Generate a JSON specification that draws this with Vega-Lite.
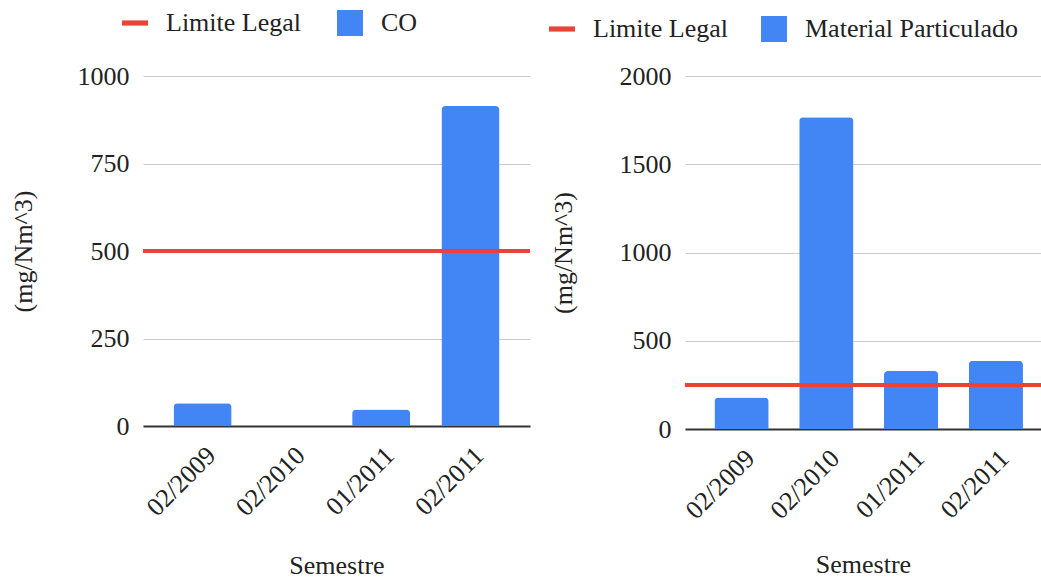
{
  "$schema": "https://vega.github.io/schema/vega-lite/v6.json",
  "padding": {"left": 10, "top": 10, "right": 0, "bottom": 0},
  "autosize": {"type": "pad"},
  "background": "white",
  "spacing": 17,
  "resolve": {"scale": {"color": "independent"}, "legend": {"color": "independent"}},
  "datasets": {
    "co": [
      {"semestre": "02/2009", "valor": 65, "serie": "CO"},
      {"semestre": "02/2010", "valor": 0, "serie": "CO"},
      {"semestre": "01/2011", "valor": 47, "serie": "CO"},
      {"semestre": "02/2011", "valor": 914, "serie": "CO"}
    ],
    "co_limite": [{"serie": "Limite Legal", "limite": 500}],
    "mp": [
      {"semestre": "02/2009", "valor": 178, "serie": "Material Particulado"},
      {"semestre": "02/2010", "valor": 1766, "serie": "Material Particulado"},
      {"semestre": "01/2011", "valor": 329, "serie": "Material Particulado"},
      {"semestre": "02/2011", "valor": 387, "serie": "Material Particulado"}
    ],
    "mp_limite": [{"serie": "Limite Legal", "limite": 250}]
  },
  "config": {
    "font": "Liberation Serif, Times New Roman, serif",
    "view": {"stroke": null},
    "axis": {
      "labelFont": "Liberation Serif, Times New Roman, serif",
      "titleFont": "Liberation Serif, Times New Roman, serif",
      "labelFontSize": 26,
      "titleFontSize": 26,
      "titleFontWeight": "normal",
      "labelColor": "#222222",
      "titleColor": "#222222"
    },
    "legend": {
      "labelFont": "Liberation Serif, Times New Roman, serif",
      "labelFontSize": 26,
      "labelColor": "#222222",
      "orient": "none",
      "direction": "horizontal",
      "symbolSize": 676,
      "labelOffset": 18,
      "columnPadding": 35,
      "padding": 0,
      "labelLimit": 400,
      "title": null
    }
  },
  "hconcat": [
    {
      "width": 387,
      "height": 350,
      "layer": [
        {
          "data": {"name": "co"},
          "mark": {"type": "bar", "cornerRadiusTopLeft": 4, "cornerRadiusTopRight": 4},
          "encoding": {
            "x": {
              "field": "semestre",
              "type": "nominal",
              "sort": null,
              "scale": {"paddingInner": 0.35, "paddingOuter": 0.342, "align": 0.5},
              "axis": {
                "title": "Semestre",
                "labelAngle": -45,
                "labelAlign": "right",
                "labelBaseline": "middle",
                "labelPadding": 25,
                "labelOffset": 9,
                "ticks": false,
                "domain": true,
                "domainColor": "#333333",
                "domainWidth": 2,
                "titlePadding": 32
              }
            },
            "y": {
              "field": "valor",
              "type": "quantitative",
              "scale": {"domain": [0, 1000], "nice": false},
              "axis": {
                "title": "(mg/Nm^3)",
                "values": [0, 250, 500, 750, 1000],
                "format": "d",
                "domain": false,
                "ticks": false,
                "grid": true,
                "gridColor": "#cccccc",
                "labelPadding": 14,
                "titlePadding": 41
              }
            },
            "color": {
              "field": "serie",
              "type": "nominal",
              "scale": {"domain": ["Limite Legal", "CO"], "range": ["#EA4335", "#4285F4"]},
              "legend": {
                "legendX": -21,
                "legendY": -66,
                "encode": {
                  "symbols": {
                    "update": {
                      "shape": {"signal": "datum.value === 'Limite Legal' ? 'M-1,-0.2L1,-0.2L1,0.2L-1,0.2Z' : 'square'"},
                      "fill": {"signal": "datum.value === 'Limite Legal' ? '#EA4335' : '#4285F4'"},
                      "strokeWidth": {"value": 0},
                      "opacity": {"value": 1}
                    }
                  }
                }
              }
            }
          }
        },
        {
          "data": {"name": "co_limite"},
          "mark": {"type": "rule", "strokeWidth": 4},
          "encoding": {
            "y": {"field": "limite", "type": "quantitative"},
            "color": {"field": "serie", "type": "nominal"}
          }
        }
      ]
    },
    {
      "width": 356,
      "height": 353,
      "layer": [
        {
          "data": {"name": "mp"},
          "mark": {"type": "bar", "cornerRadiusTopLeft": 4, "cornerRadiusTopRight": 4},
          "encoding": {
            "x": {
              "field": "semestre",
              "type": "nominal",
              "sort": null,
              "scale": {"paddingInner": 0.36, "paddingOuter": 0.28, "align": 0.62},
              "axis": {
                "title": "Semestre",
                "labelAngle": -45,
                "labelAlign": "right",
                "labelBaseline": "middle",
                "labelPadding": 25,
                "labelOffset": 9,
                "ticks": false,
                "domain": true,
                "domainColor": "#333333",
                "domainWidth": 2,
                "titlePadding": 28
              }
            },
            "y": {
              "field": "valor",
              "type": "quantitative",
              "scale": {"domain": [0, 2000], "nice": false},
              "axis": {
                "title": "(mg/Nm^3)",
                "values": [0, 500, 1000, 1500, 2000],
                "format": "d",
                "domain": false,
                "ticks": false,
                "grid": true,
                "gridColor": "#cccccc",
                "labelPadding": 14,
                "titlePadding": 43
              }
            },
            "color": {
              "field": "serie",
              "type": "nominal",
              "scale": {"domain": ["Limite Legal", "Material Particulado"], "range": ["#EA4335", "#4285F4"]},
              "legend": {
                "legendX": -136,
                "legendY": -60,
                "columnPadding": 32,
                "encode": {
                  "symbols": {
                    "update": {
                      "shape": {"signal": "datum.value === 'Limite Legal' ? 'M-1,-0.2L1,-0.2L1,0.2L-1,0.2Z' : 'square'"},
                      "fill": {"signal": "datum.value === 'Limite Legal' ? '#EA4335' : '#4285F4'"},
                      "strokeWidth": {"value": 0},
                      "opacity": {"value": 1}
                    }
                  }
                }
              }
            }
          }
        },
        {
          "data": {"name": "mp_limite"},
          "mark": {"type": "rule", "strokeWidth": 4},
          "encoding": {
            "y": {"field": "limite", "type": "quantitative"},
            "color": {"field": "serie", "type": "nominal"}
          }
        }
      ]
    }
  ]
}
